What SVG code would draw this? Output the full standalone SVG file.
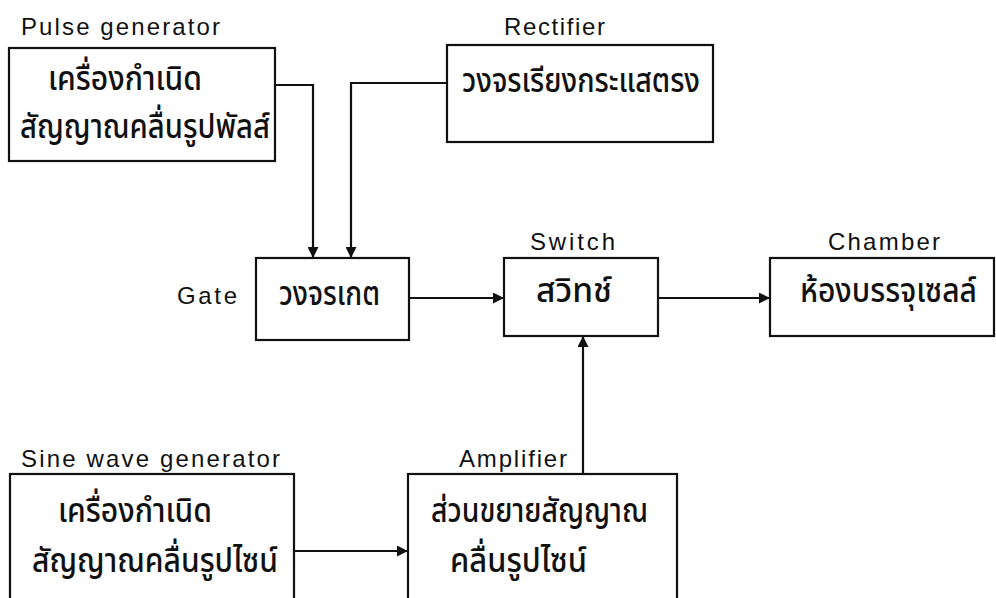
<svg xmlns="http://www.w3.org/2000/svg" width="996" height="598" viewBox="0 0 996 598">
<defs>
<style>
.box{fill:#fff;stroke:#111;stroke-width:2.2}
.en{font-family:"Liberation Sans",Arial,sans-serif;font-size:24px;fill:#111}
.th{font-family:"Noto Sans Thai","Noto Sans","DejaVu Sans",sans-serif;font-size:33px;font-weight:500;fill:#111}
.wire{fill:none;stroke:#111;stroke-width:2.2}
</style>
<marker id="arr" viewBox="0 0 10 10" refX="10" refY="5" markerWidth="11" markerHeight="11" markerUnits="userSpaceOnUse" orient="auto">
<path d="M0,0 L10,5 L0,10 z" fill="#111"/>
</marker>
</defs>
<rect width="996" height="598" fill="#fff"/>
<g id="pulse">
<text class="en" x="21" y="35" textLength="199" lengthAdjust="spacing">Pulse generator</text>
<rect class="box" x="9" y="48" width="266" height="113"/>
<text class="th" x="48" y="90" textLength="154" lengthAdjust="spacingAndGlyphs">เครื่องกำเนิด</text>
<text class="th" x="20" y="138" textLength="250" lengthAdjust="spacingAndGlyphs">สัญญาณคลื่นรูปพัลส์</text>
</g>
<g id="rectifier">
<text class="en" x="504" y="35" textLength="101" lengthAdjust="spacing">Rectifier</text>
<rect class="box" x="447" y="45" width="266" height="97"/>
<text class="th" x="462" y="92" textLength="238" lengthAdjust="spacingAndGlyphs">วงจรเรียงกระแสตรง</text>
</g>
<g id="gate">
<text class="en" x="177" y="304" textLength="60" lengthAdjust="spacing">Gate</text>
<rect class="box" x="256" y="258" width="153" height="82"/>
<text class="th" x="279" y="305" textLength="101" lengthAdjust="spacingAndGlyphs">วงจรเกต</text>
</g>
<g id="switch">
<text class="en" x="530" y="250" textLength="85" lengthAdjust="spacing">Switch</text>
<rect class="box" x="504" y="258" width="154" height="78"/>
<text class="th" x="536" y="302" textLength="76" lengthAdjust="spacingAndGlyphs">สวิทช์</text>
</g>
<g id="chamber">
<text class="en" x="828" y="250" textLength="112" lengthAdjust="spacing">Chamber</text>
<rect class="box" x="770" y="258" width="224" height="78"/>
<text class="th" x="800" y="302" textLength="177" lengthAdjust="spacingAndGlyphs">ห้องบรรจุเซลล์</text>
</g>
<g id="sine">
<text class="en" x="21" y="467" textLength="259" lengthAdjust="spacing">Sine wave generator</text>
<rect class="box" x="10" y="474" width="284" height="140"/>
<text class="th" x="58" y="522" textLength="154" lengthAdjust="spacingAndGlyphs">เครื่องกำเนิด</text>
<text class="th" x="32" y="572" textLength="246" lengthAdjust="spacingAndGlyphs">สัญญาณคลื่นรูปไซน์</text>
</g>
<g id="amplifier">
<text class="en" x="459" y="467" textLength="108" lengthAdjust="spacing">Amplifier</text>
<rect class="box" x="408" y="474" width="269" height="140"/>
<text class="th" x="431" y="522" textLength="217" lengthAdjust="spacingAndGlyphs">ส่วนขยายสัญญาณ</text>
<text class="th" x="450" y="572" textLength="137" lengthAdjust="spacingAndGlyphs">คลื่นรูปไซน์</text>
</g>
<g id="connectors">
<path class="wire" d="M275,85 H313 V258" marker-end="url(#arr)"/>
<path class="wire" d="M447,83 H351 V258" marker-end="url(#arr)"/>
<path class="wire" d="M409,298 H504" marker-end="url(#arr)"/>
<path class="wire" d="M658,298 H770" marker-end="url(#arr)"/>
<path class="wire" d="M583,474 V336" marker-end="url(#arr)"/>
<path class="wire" d="M294,551 H408" marker-end="url(#arr)"/>
</g>
</svg>
